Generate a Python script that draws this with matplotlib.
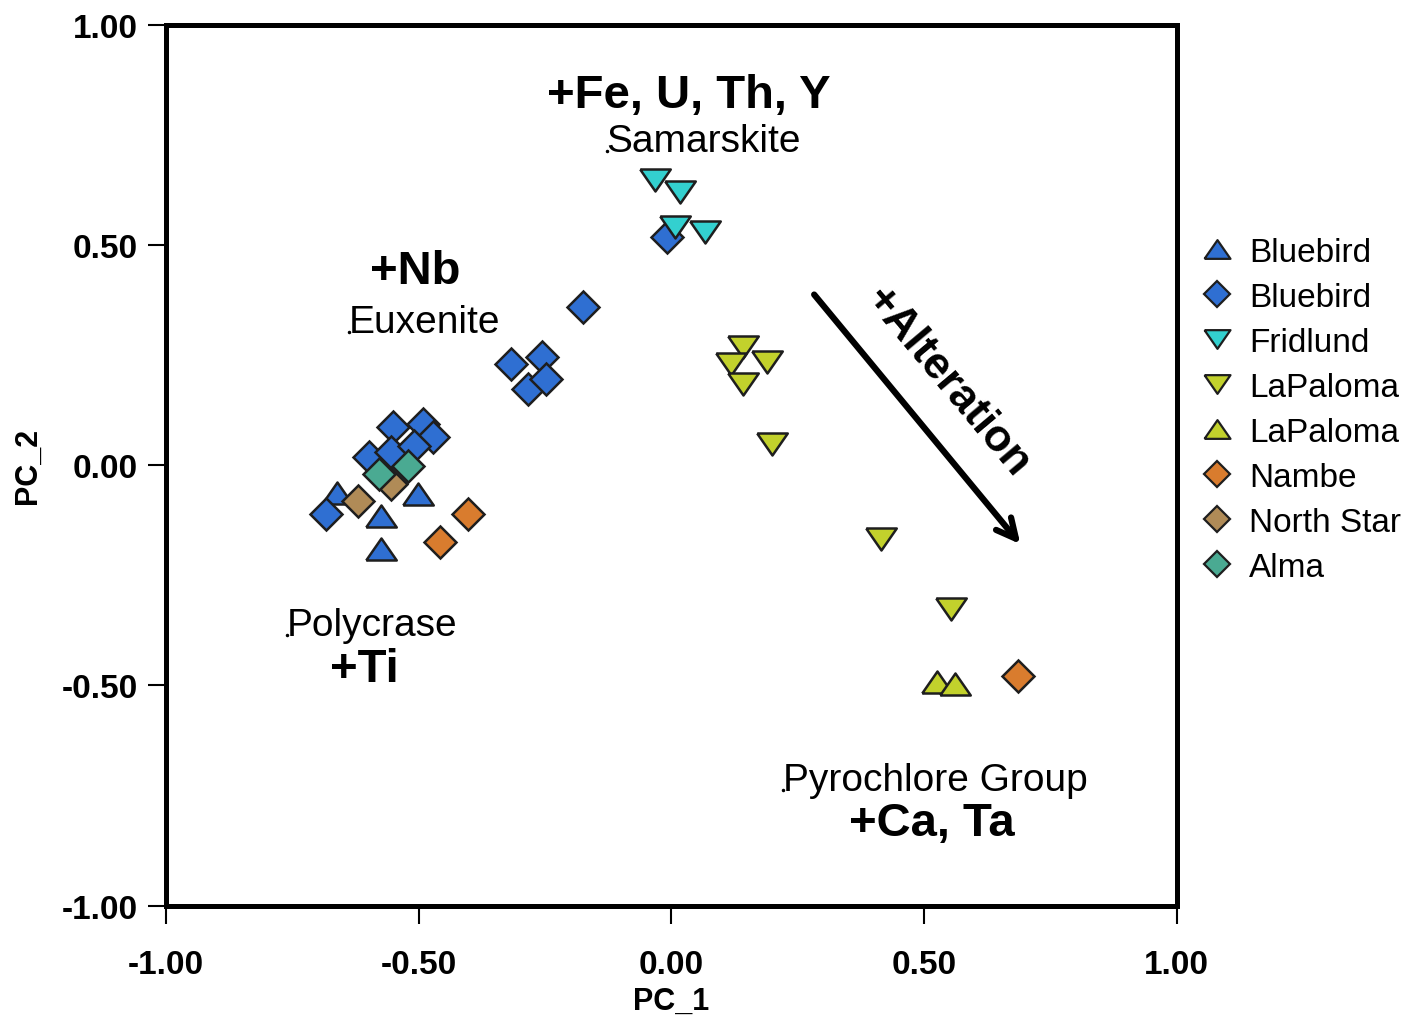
import matplotlib.pyplot as plt
from matplotlib.lines import Line2D

plt.rcParams['font.family'] = ['Liberation Sans', 'DejaVu Sans']

# data
bluebird_tri_x = [-0.662, -0.575, -0.575, -0.502]
bluebird_tri_y = [-0.063, -0.116, -0.190, -0.066]

bluebird_dia_x = [-0.684, -0.551, -0.492, -0.472, -0.599, -0.555, -0.510,
                  -0.174, -0.318, -0.255, -0.283, -0.249, -0.008]
bluebird_dia_y = [-0.111, 0.086, 0.093, 0.063, 0.018, 0.029, 0.043,
                  0.358, 0.229, 0.245, 0.172, 0.195, 0.517]

fridlund_x = [-0.032, 0.018, 0.008, 0.067]
fridlund_y = [0.646, 0.619, 0.540, 0.528]

lapaloma_dn_x = [0.142, 0.117, 0.190, 0.142, 0.200, 0.415, 0.553]
lapaloma_dn_y = [0.267, 0.229, 0.233, 0.184, 0.048, -0.168, -0.327]

lapaloma_up_x = [0.526, 0.561]
lapaloma_up_y = [-0.493, -0.497]

nambe_x = [-0.403, -0.457, 0.686]
nambe_y = [-0.111, -0.175, -0.478]

northstar_x = [-0.619, -0.555]
northstar_y = [-0.082, -0.043]

alma_x = [-0.579, -0.522]
alma_y = [-0.020, -0.002]

# squashed triangles like the original
tri_up = [(-1, -0.72), (1, -0.72), (0, 0.72), (-1, -0.72)]
tri_dn = [(-1, 0.72), (1, 0.72), (0, -0.72), (-1, 0.72)]

series = [
    (bluebird_tri_x, bluebird_tri_y, tri_up, 22, '#2f6fd2', 'Bluebird'),
    (bluebird_dia_x, bluebird_dia_y, 'D', 16, '#2f6fd2', 'Bluebird'),
    (fridlund_x, fridlund_y, tri_dn, 22, '#33d0cf', 'Fridlund'),
    (lapaloma_dn_x, lapaloma_dn_y, tri_dn, 22, '#c2d12c', 'LaPaloma'),
    (lapaloma_up_x, lapaloma_up_y, tri_up, 22, '#c2d12c', 'LaPaloma'),
    (nambe_x, nambe_y, 'D', 16, '#d97c2e', 'Nambe'),
    (northstar_x, northstar_y, 'D', 16, '#b08b57', 'North Star'),
    (alma_x, alma_y, 'D', 16, '#4aaa92', 'Alma'),
]

fig = plt.figure(figsize=(14.06, 10.2), dpi=100)
ax = fig.add_axes([0.118, 0.111, 0.719, 0.864])

handles = []
for x, y, m, ms, c, lab in series:
    ax.plot(x, y, linestyle='none', marker=m, markersize=ms,
            markerfacecolor=c, markeredgecolor='#1e1e1e', markeredgewidth=1.8)
    handles.append(Line2D([], [], linestyle='none', marker=m, markersize=ms * 0.85,
                          markerfacecolor=c, markeredgecolor='#1e1e1e',
                          markeredgewidth=1.6, label=lab))

ax.set_xlim(-1, 1)
ax.set_ylim(-1, 1)
ax.set_xticks([-1, -0.5, 0, 0.5, 1])
ax.set_yticks([-1, -0.5, 0, 0.5, 1])
ax.set_xticklabels(['%.2f' % v for v in ax.get_xticks()])
ax.set_yticklabels(['%.2f' % v for v in ax.get_yticks()])
for sp in ax.spines.values():
    sp.set_linewidth(3.6)
ax.tick_params(length=13, width=1.5, labelsize=24)
ax.tick_params(axis='x', pad=18)
ax.tick_params(axis='y', pad=7)
for t in ax.get_xticklabels() + ax.get_yticklabels():
    t.set_fontweight('bold')
ax.set_xlabel('PC_1', fontsize=22, fontweight='bold', labelpad=4)
ax.set_ylabel('PC_2', fontsize=22, fontweight='bold', labelpad=14)

# annotations
bold_labels = [('+Fe, U, Th, Y', 0.034, 0.840), ('+Nb', -0.506, 0.440),
               ('+Ti', -0.607, -0.462), ('+Ca, Ta', 0.516, -0.812)]
for s, x, y in bold_labels:
    ax.text(x, y, s, fontsize=34, fontweight='bold', ha='center', va='center')

name_labels = [('Samarskite', -0.128, 0.714), ('Euxenite', -0.638, 0.302),
               ('Polycrase', -0.761, -0.385), ('Pyrochlore Group', 0.221, -0.737)]
for s, x, y in name_labels:
    ax.text(x, y, s, fontsize=28, ha='left', va='baseline')
    ax.plot(x, y, marker='.', markersize=3, color='black')

ax.annotate('', xy=(0.694, -0.184), xytext=(0.279, 0.392),
            arrowprops=dict(arrowstyle='->,head_length=1.4,head_width=0.7',
                            lw=4.5, color='black'))
ax.text(0.545, 0.19, '+Alteration', fontsize=32, fontweight='bold',
        rotation=-50, ha='center', va='center', rotation_mode='anchor')

fig.legend(handles=handles, loc='upper left', bbox_to_anchor=(0.842, 0.78),
           frameon=False, fontsize=24, labelspacing=0.42, handletextpad=0.35,
           handlelength=1.2, borderaxespad=0)

fig.savefig('out.png', dpi=100)
